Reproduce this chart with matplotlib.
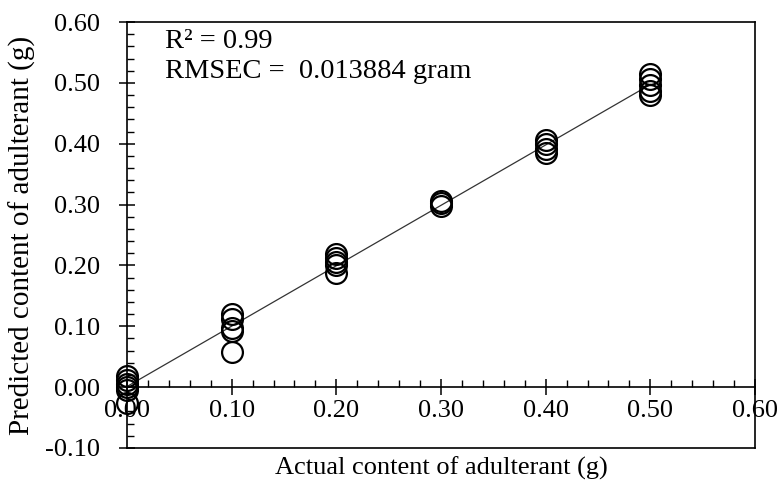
import matplotlib.pyplot as plt
from matplotlib.ticker import MultipleLocator, FormatStrFormatter
import numpy as np

plt.rcParams["font.family"] = ["Liberation Serif", "DejaVu Serif"]

# actual vs predicted content (g)
actual = [0.0, 0.0, 0.0, 0.0, 0.0, 0.0,
          0.1, 0.1, 0.1, 0.1, 0.1,
          0.2, 0.2, 0.2, 0.2, 0.2,
          0.3, 0.3, 0.3,
          0.4, 0.4, 0.4, 0.4,
          0.5, 0.5, 0.5, 0.5, 0.5]
predicted = [0.018, 0.012, 0.005, 0.0, -0.004, -0.026,
             0.120, 0.112, 0.098, 0.093, 0.058,
             0.218, 0.212, 0.205, 0.200, 0.188,
             0.306, 0.302, 0.298,
             0.406, 0.399, 0.391, 0.385,
             0.515, 0.506, 0.496, 0.486, 0.480]
r2_text = "R² = 0.99"
rmsec_text = "RMSEC =  0.013884 gram"

fig = plt.figure(figsize=(7.81, 4.87), dpi=100)
ax = fig.add_axes([0.1626, 0.0801, 0.8041, 0.8747])

# regression line
slope, intercept = np.polyfit(actual, predicted, 1)
xs = np.array([0.0, 0.5])
ax.plot(xs, slope * xs + intercept, color="#333333", lw=0.9)

ax.plot(actual, predicted, "o", mfc="none", mec="black", ms=15, mew=1.6,
        clip_on=False, zorder=3)

ax.set_xlim(0, 0.6)
ax.set_ylim(-0.1, 0.6)

# x axis drawn through zero, frame kept at the bottom
ax.spines["bottom"].set_position(("data", 0))
ax.axhline(-0.1, color="black", lw=1.2, clip_on=False)
for s in ax.spines.values():
    s.set_linewidth(1.2)

ax.xaxis.set_major_locator(MultipleLocator(0.1))
ax.xaxis.set_minor_locator(MultipleLocator(0.02))
ax.yaxis.set_major_locator(MultipleLocator(0.1))
ax.yaxis.set_minor_locator(MultipleLocator(0.02))
ax.xaxis.set_major_formatter(FormatStrFormatter("%.2f"))
ax.yaxis.set_major_formatter(FormatStrFormatter("%.2f"))

ax.tick_params(axis="y", which="major", direction="inout", length=11, width=1.1,
               pad=14, labelsize=19)
ax.tick_params(axis="y", which="minor", direction="in", length=5, width=1.0)
ax.tick_params(axis="x", which="major", direction="inout", length=11, width=1.1,
               pad=4, labelsize=19)
ax.tick_params(axis="x", which="minor", direction="in", length=5, width=1.0)

ax.set_xlabel("Actual content of adulterant (g)", fontsize=19)
ax.set_ylabel("Predicted content of adulterant (g)", fontsize=21)
ax.xaxis.set_label_coords(0.5, -0.02)
ax.yaxis.set_label_coords(-0.145, 0.5)

ax.text(0.06, 0.955, r2_text, transform=ax.transAxes, fontsize=20.5, va="center")
ax.text(0.06, 0.884, rmsec_text, transform=ax.transAxes, fontsize=20.5, va="center")

fig.savefig("out.png", dpi=100)
